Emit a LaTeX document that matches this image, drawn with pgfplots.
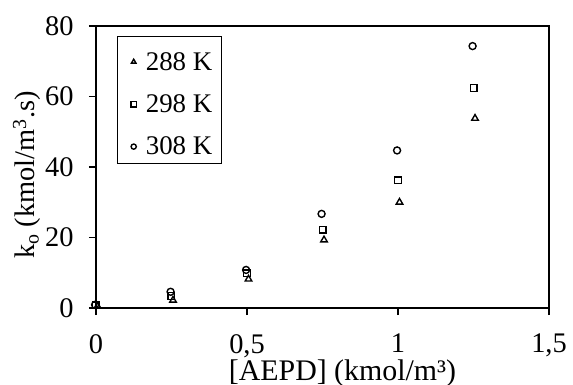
\documentclass[border=0pt]{standalone}
\usepackage{pgfplots}
\pgfplotsset{compat=1.18}
\usepackage{fontspec}
\setmainfont{Liberation Serif}
\begin{document}
\begin{tikzpicture}
\begin{axis}[
  scale only axis,
  width=453bp, height=282bp,
  xmin=0, xmax=1.5, ymin=0, ymax=80,
  xtick={0,0.5,1,1.5}, ytick={0,20,40,60,80},
  tick align=outside,
  major tick length=7bp,
  xtick pos=bottom, ytick pos=left,
  axis line style={line width=1.4bp},
  tick style={line width=1.4bp, black},
  /pgf/number format/assume math mode=true,
  /pgf/number format/use comma,
  tick label style={font=\fontsize{28.5}{32}\selectfont},
  xticklabel style={inner sep=0pt, yshift=-19bp},
  yticklabel style={xshift=-12bp},
  xlabel={[AEPD] (kmol/m³)},
  ylabel={k\textsubscript{o} (kmol/m\textsuperscript{3}.s)},
  xlabel style={font=\fontsize{30}{32}\selectfont, inner sep=0pt, at={(rel axis cs:0.5,0)}, anchor=base, yshift=-72bp, xshift=20bp},
  ylabel style={font=\fontsize{28.5}{32}\selectfont, inner sep=0pt, at={(rel axis cs:0,0.5)}, anchor=base, yshift=61bp, xshift=-8bp},
  clip=false,
  legend style={at={(rel axis cs:0.0457,0.9645)}, anchor=north west,
     font=\fontsize{27}{30}\selectfont, draw=black, line width=1.4bp,
     inner xsep=6bp, inner ysep=3bp, row sep=6.3bp,
     nodes={inner xsep=3bp, inner ysep=2bp}},
  legend cell align=left,
  legend image code/.code={\path (0bp,-13.3bp) (18bp,21.4bp); \draw[mark size=2.6bp] plot coordinates {(9.6bp,0bp)};},
  every axis plot/.append style={only marks, black, mark options={line width=1.4bp, fill=white}},
]
\coordinate (bl) at (rel axis cs:0,0);
\coordinate (tr) at (rel axis cs:1,1);
\addplot[mark=triangle, mark size=3.8bp] coordinates {
(0.005,0.5) (0.255,2.2) (0.505,8.2) (0.755,19.3) (1.005,30.0) (1.255,53.8)};
\addlegendentry{288 K}
\addplot[mark=square, mark size=3.3bp] coordinates {
(0,0.8) (0.25,3.4) (0.5,9.9) (0.75,22.2) (1,36.2) (1.25,62.4)};
\addlegendentry{298 K}
\addplot[mark=o, mark size=3.5bp] coordinates {
(-0.003,0.9) (0.247,4.6) (0.497,10.8) (0.747,26.7) (0.997,44.7) (1.247,74.3)};
\addlegendentry{308 K}
\end{axis}
\pgfresetboundingbox
\path[use as bounding box] ([shift={(-96bp,-77bp)}]bl) rectangle ([shift={(24bp,26bp)}]tr);
\end{tikzpicture}
\end{document}
